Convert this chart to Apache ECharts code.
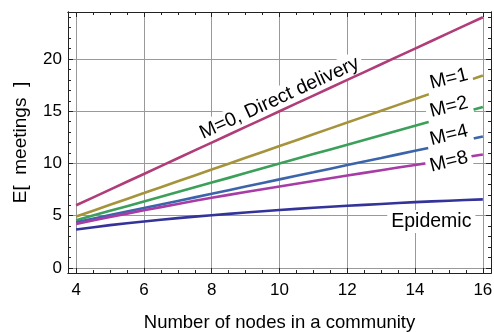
<!DOCTYPE html>
<html>
<head>
<meta charset="utf-8">
<script src="https://cdn.jsdelivr.net/npm/echarts@6/dist/echarts.min.js"></script>
<style>
  html, body { margin: 0; padding: 0; background: #fff; }
  #chart { width: 494px; height: 332px; }
</style>
</head>
<body>
<div id="chart"></div>
<script>
// Community size (x) and expected number of meetings per strategy
const nodes = [4, 5, 6, 7, 8, 9, 10, 11, 12, 13, 14, 15, 16];
const directDelivery = [6, 7.5, 9, 10.5, 12, 13.5, 15, 16.5, 18, 19.5, 21, 22.5, 24];
const m1 = [4.92, 6.05, 7.17, 8.3, 9.42, 10.55, 11.67, 12.8, 13.92, 15.05, 16.17, 17.3, 18.42];
const m2 = [4.57, 5.47, 6.37, 7.27, 8.17, 9.08, 10.0, 10.9, 11.8, 12.71, 13.62, 14.51, 15.4];
const m4 = [4.38, 5.06, 5.74, 6.42, 7.1, 7.79, 8.48, 9.16, 9.85, 10.53, 11.22, 11.9, 12.58];
const m8 = [4.22, 4.88, 5.52, 6.13, 6.72, 7.27, 7.8, 8.33, 8.85, 9.36, 9.86, 10.36, 10.86];
const epidemic = [3.68, 4.1, 4.45, 4.77, 5.05, 5.31, 5.55, 5.76, 5.95, 6.13, 6.3, 6.44, 6.57];

const xMajor = [4, 6, 8, 10, 12, 14, 16];
const xMinor = [4.5, 5, 5.5, 6.5, 7, 7.5, 8.5, 9, 9.5, 10.5, 11, 11.5, 12.5, 13, 13.5, 14.5, 15, 15.5];
const yMajor = [0, 5, 10, 15, 20];
const yMinor = [1, 2, 3, 4, 6, 7, 8, 9, 11, 12, 13, 14, 16, 17, 18, 19, 21, 22, 23, 24];

const FONT = '"Liberation Sans", Arial, Helvetica, sans-serif';
const FRAME = '#222';
const GRID = '#999';

const pair = (ys) => nodes.map((n, i) => [n, ys[i]]);

const xRange = { min: 3.76, max: 16.24 };
const yRange = { min: -0.48, max: 24.5 };

function frameAxis(base, position, ticks, len, opts) {
  return Object.assign({
    type: 'value',
    position: position,
    min: base.min,
    max: base.max,
    axisLine: { show: true, onZero: false, lineStyle: { color: FRAME, width: 1 } },
    axisTick: { show: true, inside: true, length: len, customValues: ticks,
                lineStyle: { color: FRAME, width: 1 } },
    axisLabel: { show: false },
    splitLine: { show: false },
    minorTick: { show: false },
    splitArea: { show: false }
  }, opts || {});
}

const xAxes = [
  frameAxis(xRange, 'bottom', xMajor, 5, {
    axisLabel: { show: true, customValues: xMajor, margin: 9, color: '#000',
                 fontFamily: FONT, fontSize: 17 },
    splitLine: { show: true, lineStyle: { color: GRID, width: 1 } },
    name: 'Number of nodes in a community',
    nameLocation: 'middle',
    nameGap: 40,
    nameTextStyle: { color: '#000', fontFamily: FONT, fontSize: 18.5 }
  }),
  frameAxis(xRange, 'bottom', xMinor, 3),
  frameAxis(xRange, 'top', xMajor, 5),
  frameAxis(xRange, 'top', xMinor, 3)
];

const yAxes = [
  frameAxis(yRange, 'left', yMajor, 5, {
    axisLabel: { show: true, customValues: yMajor, margin: 6, color: '#000',
                 fontFamily: FONT, fontSize: 17 },
    splitLine: { show: true, lineStyle: { color: GRID, width: 1 } },
    name: 'E[  meetings  ]',
    nameLocation: 'middle',
    nameGap: 38,
    nameRotate: 90,
    nameTextStyle: { color: '#000', fontFamily: FONT, fontSize: 19 }
  }),
  frameAxis(yRange, 'left', yMinor, 3),
  frameAxis(yRange, 'right', yMajor, 5),
  frameAxis(yRange, 'right', yMinor, 3)
];

function curve(name, ys, color, z) {
  return {
    name: name,
    type: 'line',
    data: pair(ys),
    showSymbol: false,
    symbol: 'none',
    smooth: 0.2,
    z: z,
    lineStyle: { color: color, width: 2.6 },
    emphasis: { disabled: true }
  };
}

// Curve captions sit on a white box, placed in data coordinates
const captions = [
  { text: 'M=0, Direct delivery', at: [10, 16.25], angle: 24.5 },
  { text: 'M=1', at: [15, 18.09], angle: 14 },
  { text: 'M=2', at: [15, 15.39], angle: 14 },
  { text: 'M=4', at: [15, 12.7], angle: 14 },
  { text: 'M=8', at: [15, 10.15], angle: 14 },
  { text: 'Epidemic', at: [14.48, 4.44], angle: 0 }
];

const captionSeries = {
  type: 'scatter',
  symbolSize: 0,
  z: 3,
  silent: true,
  itemStyle: { opacity: 1 },
  data: captions.map(c => ({
    value: c.at,
    label: {
      show: true,
      position: 'inside',
      formatter: c.text,
      rotate: c.angle,
      color: '#000',
      opacity: 1,
      textBorderWidth: 0,
      textShadowBlur: 0,
      fontFamily: FONT,
      fontSize: 19.5,
      backgroundColor: '#fff',
      padding: [2, 4, 1, 4]
    }
  }))
};

const chart = echarts.init(document.getElementById('chart'), null, { renderer: 'canvas' });
chart.setOption({
  animation: false,
  backgroundColor: '#fff',
  grid: { left: 68, right: 3, top: 12, bottom: 59, containLabel: false, outerBoundsMode: 'none' },
  xAxis: xAxes,
  yAxis: yAxes,
  series: [
    curve('M=0', directDelivery, '#B03C78', 4),
    curve('M=1', m1, '#A6943C', 2),
    curve('M=2', m2, '#3CA05A', 2),
    curve('M=4', m4, '#3C64AA', 2),
    curve('M=8', m8, '#A83CA6', 2),
    curve('Epidemic', epidemic, '#33339A', 2),
    captionSeries
  ]
});
</script>
</body>
</html>
